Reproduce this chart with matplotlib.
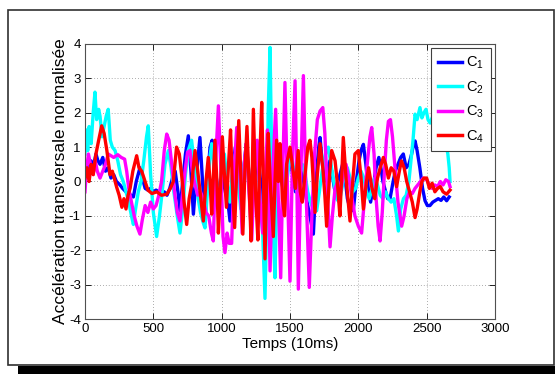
import matplotlib
matplotlib.use("Agg")
import matplotlib.pyplot as plt
from matplotlib.patches import Rectangle

# ---------------- data ----------------
c1_x = [0, 15, 30, 45, 60, 80, 95, 110, 130, 150, 170, 190, 210, 230, 256, 275, 300, 320, 354, 375, 402, 420, 440, 460, 480, 500, 520, 540, 560, 580, 600, 620, 640, 660, 680, 695, 715, 735, 756, 775, 793, 815, 841, 860, 878, 895, 915, 930, 945, 965, 985, 1005, 1025, 1040, 1061, 1080, 1100, 1120, 1140, 1160, 1180, 1200, 1220, 1240, 1260, 1280, 1300, 1320, 1340, 1360, 1380, 1400, 1420, 1440, 1460, 1480, 1500, 1520, 1540, 1560, 1580, 1600, 1620, 1640, 1660, 1671, 1690, 1710, 1720, 1735, 1750, 1770, 1790, 1805, 1825, 1845, 1865, 1885, 1900, 1920, 1940, 1963, 1985, 2005, 2020, 2037, 2055, 2075, 2090, 2110, 2130, 2150, 2165, 2180, 2200, 2215, 2232, 2250, 2270, 2290, 2310, 2329, 2350, 2370, 2390, 2405, 2415, 2430, 2450, 2470, 2488, 2505, 2524, 2545, 2565, 2585, 2605, 2625, 2646, 2665]
c1_y = [0.2, 0.5, 0.3, 0.6, 0.4, 0.8, 0.6, 0.5, 0.7, 0.3, 0.4, 0.1, 0.2, 0.0, -0.1, -0.2, -0.3, -0.35, -0.45, 0.0, 0.4, 0.1, -0.2, -0.25, -0.2, -0.3, -0.25, -0.3, -0.35, -0.3, -0.4, -0.2, 0.1, 0.3, -0.3, -0.85, 0.0, 0.8, 1.33, 0.3, -0.95, 0.2, 1.28, 0.0, -1.15, 0.0, 1.0, 1.2, 0.6, 0.0, -0.6, -0.2, 0.5, -0.4, -1.15, 0.3, 1.0, 0.5, -0.5, 0.3, 1.1, 0.2, -0.8, 0.0, 0.9, 0.2, -0.6, 0.0, 0.8, -0.3, -0.7, 0.2, 0.6, 0.0, -0.5, 0.3, 0.7, 0.2, -0.3, 0.3, 0.5, 0.0, -0.5, -0.9, -1.3, -1.53, 0.0, 1.0, 1.28, 0.6, 0.0, 0.2, 0.6, 0.3, -0.2, -0.4, 0.2, 0.5, 0.2, -0.5, -0.8, -0.85, 0.0, 0.6, 0.9, 1.08, 0.5, -0.3, -0.6, -0.1, 0.4, 0.7, 0.4, 0.0, -0.3, -0.5, -0.5, -0.1, 0.3, 0.5, 0.7, 0.8, 0.4, 0.5, 0.8, 1.1, 1.18, 0.9, 0.4, -0.2, -0.56, -0.7, -0.7, -0.6, -0.55, -0.5, -0.55, -0.45, -0.56, -0.45]

c2_x = [0, 10, 20, 30, 45, 60, 73, 85, 100, 110, 125, 140, 155, 170, 185, 200, 220, 240, 260, 280, 300, 320, 340, 354, 370, 390, 410, 430, 450, 463, 480, 500, 524, 545, 565, 585, 610, 630, 650, 675, 695, 715, 735, 755, 780, 800, 820, 845, 865, 878, 895, 910, 927, 945, 960, 980, 1000, 1020, 1040, 1060, 1080, 1100, 1120, 1140, 1160, 1180, 1200, 1220, 1240, 1260, 1280, 1300, 1317, 1330, 1340, 1354, 1365, 1378, 1390, 1400, 1415, 1430, 1450, 1470, 1490, 1510, 1530, 1550, 1570, 1590, 1610, 1630, 1650, 1670, 1695, 1715, 1735, 1760, 1780, 1800, 1820, 1840, 1860, 1880, 1900, 1920, 1940, 1960, 1980, 2000, 2020, 2040, 2060, 2080, 2100, 2120, 2140, 2160, 2180, 2200, 2220, 2240, 2260, 2280, 2293, 2310, 2330, 2350, 2370, 2385, 2400, 2415, 2430, 2451, 2465, 2480, 2495, 2510, 2525, 2545, 2560, 2573, 2590, 2610, 2630, 2645, 2655, 2665, 2671]
c2_y = [0.8, 1.5, 0.9, 1.6, 1.1, 2.0, 2.6, 1.8, 2.1, 1.9, 1.3, 1.6, 1.9, 2.1, 1.2, 1.0, 0.9, 0.6, 0.2, 0.0, -0.3, -0.6, -1.0, -1.25, -0.8, -0.3, 0.0, 0.6, 1.3, 1.62, 0.2, -0.9, -1.6, -1.0, -0.3, 0.5, 0.9, 0.4, -0.3, -1.0, -1.5, -0.8, 0.2, 0.9, 1.2, 0.5, -0.3, -0.9, -1.2, -1.35, -0.3, 0.6, 1.1, 0.3, -0.6, -0.4, 0.3, 0.8, 0.0, -0.6, 0.2, 0.8, 0.0, -0.8, 0.4, 0.9, -0.2, -1.0, 0.5, 1.0, -0.5, -1.5, -3.4, -1.0, 2.0, 3.9, 1.0, -1.5, -2.8, -1.0, 0.5, 0.9, 0.3, -0.2, 0.4, 0.8, 0.3, -0.3, 0.2, 0.5, 0.2, -0.3, -0.6, -0.8, -0.85, -0.3, 0.3, 0.8, 1.0, 0.5, 0.0, -0.5, -0.6, -0.2, 0.2, 0.4, 0.1, -0.3, -0.2, 0.1, 0.3, 0.1, -0.3, -0.5, -0.2, 0.1, -0.1, -0.4, -0.5, -0.3, -0.5, -0.6, -0.5, -1.0, -1.44, -0.8, -0.5, -0.4, 0.0, 0.6, 1.2, 1.96, 1.8, 2.15, 1.85, 2.0, 2.1, 1.8, 1.7, 1.9, 1.6, 1.48, 1.5, 1.3, 1.2, 1.0, 0.8, 0.4, 0.0]

c3_x = [0, 10, 25, 40, 60, 75, 90, 110, 130, 150, 170, 190, 210, 240, 265, 290, 305, 320, 340, 360, 380, 402, 420, 440, 460, 480, 500, 520, 540, 560, 580, 598, 615, 635, 655, 675, 695, 715, 735, 750, 768, 785, 805, 825, 845, 865, 885, 905, 925, 939, 955, 976, 995, 1010, 1024, 1040, 1055, 1073, 1090, 1110, 1130, 1150, 1165, 1180, 1200, 1220, 1240, 1260, 1280, 1300, 1320, 1335, 1354, 1375, 1395, 1415, 1432, 1450, 1463, 1480, 1500, 1520, 1537, 1550, 1561, 1578, 1598, 1615, 1641, 1660, 1680, 1700, 1720, 1740, 1755, 1775, 1793, 1810, 1830, 1850, 1870, 1890, 1910, 1930, 1950, 1975, 2000, 2024, 2045, 2065, 2085, 2098, 2115, 2130, 2145, 2159, 2175, 2190, 2205, 2220, 2235, 2250, 2270, 2290, 2317, 2335, 2355, 2375, 2395, 2415, 2435, 2455, 2475, 2500, 2520, 2540, 2560, 2580, 2600, 2620, 2640, 2660, 2671]
c3_y = [-0.3, 0.3, 0.8, 0.5, 0.2, 0.6, 0.3, 0.1, 0.3, 0.5, 0.8, 0.75, 0.7, 0.78, 0.7, 0.65, 0.3, -0.2, -0.6, -1.0, -1.3, -1.53, -1.1, -0.7, -0.9, -0.6, -0.8, -0.7, -0.4, 0.0, 0.9, 1.38, 1.2, 0.5, -0.3, -0.9, -1.15, -0.3, 0.4, 0.85, 0.9, 0.3, -0.1, -0.4, -0.3, -0.5, -0.9, -1.0, -1.5, -1.73, 0.5, 2.2, 0.3, -1.6, -2.07, -1.5, -1.8, -1.8, 0.2, 1.57, 0.5, -1.5, 0.5, 1.1, -0.3, -1.7, 0.3, 1.2, -0.5, -1.5, 0.3, 1.5, -2.6, 0.4, 2.1, -0.5, -2.8, 0.8, 2.88, 0.0, -2.9, 1.0, 2.93, 0.0, -3.13, 0.0, 3.08, 0.0, -3.08, -1.0, 0.8, 1.8, 2.05, 2.15, 1.4, -0.5, -1.9, -1.0, -0.2, 0.0, -0.3, 0.2, 0.5, 0.1, -0.4, -1.0, -1.3, -1.5, -0.5, 0.5, 1.3, 1.57, 0.8, -0.5, -1.3, -1.73, -0.9, 0.2, 1.2, 1.75, 1.8, 1.3, 0.3, -0.6, -1.3, -1.0, -0.5, -0.3, -0.35, -0.2, -0.1, 0.0, 0.1, 0.05, -0.1, -0.2, -0.1, -0.15, 0.0, -0.1, 0.05, 0.0, -0.15]

c4_x = [0, 15, 30, 45, 60, 80, 100, 122, 140, 160, 183, 200, 232, 250, 270, 285, 300, 315, 330, 350, 378, 395, 415, 440, 460, 490, 525, 560, 598, 625, 646, 670, 690, 707, 725, 744, 762, 780, 805, 825, 845, 866, 885, 902, 915, 927, 940, 951, 965, 976, 990, 1005, 1020, 1035, 1050, 1065, 1080, 1095, 1110, 1125, 1140, 1155, 1170, 1185, 1200, 1215, 1232, 1250, 1265, 1280, 1293, 1305, 1317, 1330, 1341, 1355, 1378, 1390, 1402, 1415, 1427, 1445, 1460, 1475, 1500, 1520, 1540, 1560, 1575, 1590, 1610, 1630, 1646, 1660, 1683, 1700, 1720, 1740, 1755, 1768, 1790, 1805, 1830, 1850, 1865, 1880, 1890, 1910, 1939, 1955, 1975, 2000, 2020, 2037, 2060, 2075, 2100, 2120, 2140, 2160, 2183, 2200, 2220, 2240, 2260, 2280, 2300, 2315, 2335, 2354, 2375, 2395, 2415, 2430, 2450, 2465, 2480, 2500, 2520, 2540, 2560, 2580, 2600, 2620, 2646, 2671]
c4_y = [0.1, 0.4, 0.0, 0.5, 0.2, 0.8, 1.2, 1.62, 1.4, 0.9, 0.2, 0.3, -0.17, -0.4, -0.75, -0.5, -0.8, -0.4, -0.2, 0.3, 0.75, 0.4, 0.3, 0.0, -0.25, -0.35, -0.3, -0.4, -0.37, -0.2, 0.0, 1.0, 0.8, 0.2, -0.6, -1.25, -0.5, -0.1, 0.9, 0.3, -0.4, -1.15, 0.0, 0.7, 0.0, -0.95, 0.2, 1.2, 0.0, -1.5, -0.3, 1.3, 0.2, -0.75, 0.5, 1.5, -0.3, -1.34, 0.3, 1.77, 0.2, -1.53, 0.3, 1.6, 0.0, -1.73, 2.1, -0.5, -1.7, 0.8, 2.3, 0.0, -2.25, 0.2, 1.4, 0.0, -1.6, 0.0, 1.2, 0.0, 1.1, -0.5, -1.0, 0.5, 1.0, 0.4, -0.2, 0.9, -0.3, -0.6, 0.2, 1.0, 1.2, 0.7, -0.9, 0.2, 1.1, 0.4, -0.4, -1.3, 0.2, 0.9, 0.6, -0.2, -1.0, 0.3, 1.28, 0.1, -1.15, -0.2, 0.8, 0.9, 0.1, -0.8, 0.0, 0.4, -0.2, -0.5, 0.1, 0.4, 0.7, 0.5, 0.1, 0.4, 0.3, -0.15, 0.3, 0.6, 0.4, 0.0, -0.3, -0.6, -1.05, -0.8, -0.3, 0.0, 0.1, 0.1, -0.2, -0.05, -0.3, -0.2, -0.15, -0.3, -0.37, -0.25]

series_x = [c1_x, c2_x, c3_x, c4_x]
series_y = [c1_y, c2_y, c3_y, c4_y]
labels = [r"C$_1$", r"C$_2$", r"C$_3$", r"C$_4$"]
colors = ["#0000ff", "#00ffff", "#ff00ff", "#ff0000"]

x_ticks = [0, 500, 1000, 1500, 2000, 2500, 3000]
y_ticks = [-4, -3, -2, -1, 0, 1, 2, 3, 4]
x_label = "Temps (10ms)"
y_label = "Accélération transversale normalisée"

# ---------------- figure ----------------
plt.rcParams["font.family"] = ["Liberation Sans", "DejaVu Sans"]
plt.rcParams["mathtext.fontset"] = "custom"
plt.rcParams["mathtext.rm"] = "Liberation Sans"
plt.rcParams["mathtext.it"] = "Liberation Sans"
plt.rcParams["axes.unicode_minus"] = False

W, H = 555, 374
fig = plt.figure(figsize=(W / 100, H / 100), dpi=100)
fig.patch.set_facecolor("white")

# outer frame + shadow
fig.patches.append(Rectangle((18 / W, 0), 1 - 18 / W, 8 / H, transform=fig.transFigure,
                             facecolor="black", edgecolor="none", zorder=0))
fig.patches.append(Rectangle((7.5 / W, 1 - 365 / H), 546.5 / W, 355.5 / H, transform=fig.transFigure,
                             facecolor="white", edgecolor="#303030", linewidth=1.2, zorder=1))

ax = fig.add_axes([85 / W, 1 - 319 / H, 410 / W, 275 / H])
ax.set_zorder(2)
for xs, ys, lab, col in zip(series_x, series_y, labels, colors):
    ax.plot(xs, ys, color=col, linewidth=2.4, label=lab, solid_joinstyle="round")

ax.set_xlim(0, 3000)
ax.set_ylim(-4, 4)
ax.set_xticks(x_ticks)
ax.set_yticks(y_ticks)
ax.grid(True, linestyle=(0, (1, 2.5)), color="#909090", linewidth=0.6)
ax.tick_params(direction="in", length=4, width=0.6, top=True, right=True,
               labelsize=9.5, colors="black", pad=3)
for s in ax.spines.values():
    s.set_color("#505050")
    s.set_linewidth(0.8)
ax.set_xlabel(x_label, fontsize=11, labelpad=1)
ax.set_ylabel(y_label, fontsize=12.5, labelpad=0.5)

leg = ax.legend(loc="upper right", fontsize=10.5, handlelength=1.7, labelspacing=0.55,
                borderaxespad=0.3, fancybox=False, framealpha=1, edgecolor="#404040",
                handletextpad=0.25, borderpad=0.45)
leg.get_frame().set_linewidth(0.8)
for l in leg.get_lines():
    l.set_linewidth(2.5)

fig.savefig("out.png", dpi=100, facecolor="white")
